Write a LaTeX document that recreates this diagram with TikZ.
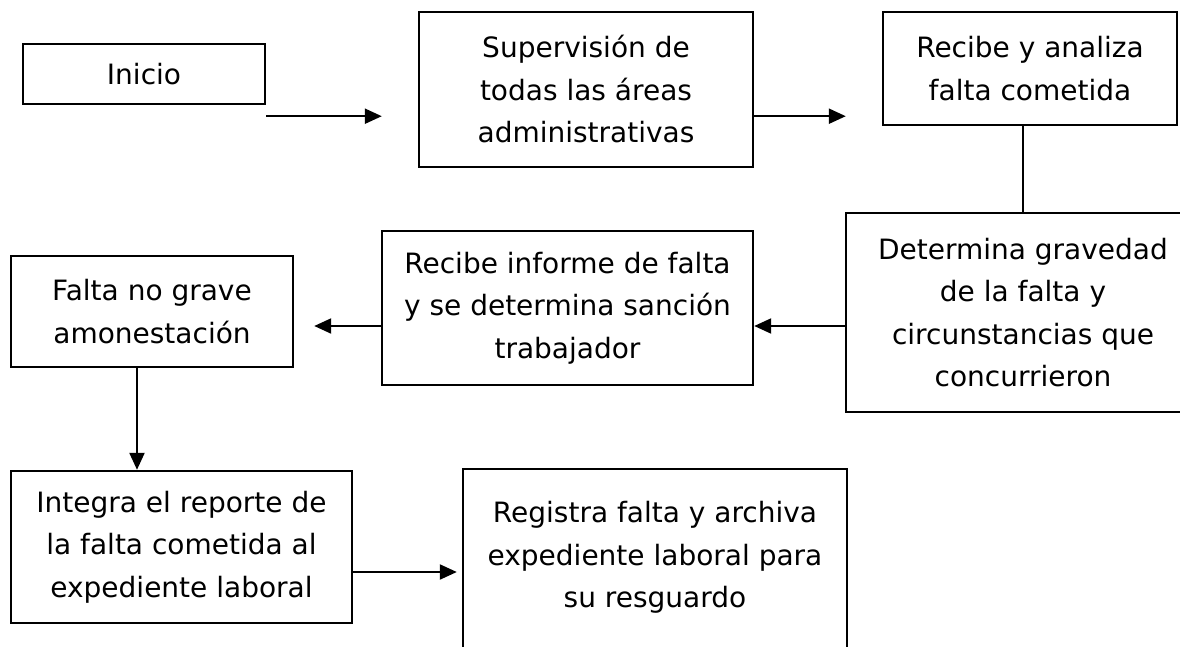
\documentclass[tikz,border=0pt]{standalone}
\usepackage{fontspec}
\setmainfont{DejaVu Sans}
\usetikzlibrary{arrows.meta}
\tikzset{
  mybox/.style={draw,line width=2.4pt,inner sep=0pt,align=center,
    font=\fontsize{28}{42.5}\selectfont},
  myarrow/.style={line width=2.2pt,-{Triangle[length=17pt,width=15pt]}}
}

\begin{document}
\begin{tikzpicture}[x=1pt,y=-1pt]
  \clip (0,0) rectangle (1180,647);
  \node[mybox,minimum width=242,minimum height=60]  (inicio)   at (144,74)    {Inicio};
  \node[mybox,minimum width=334,minimum height=155] (superv)   at (586,89.5)  {Supervisión de\\todas las áreas\\administrativas};
  \node[mybox,minimum width=294,minimum height=113] (analiza)  at (1030,68.5) {Recibe y analiza\\falta cometida};
  \node[mybox,minimum width=354,minimum height=199] (gravedad) at (1023,312.5) {Determina gravedad\\de la falta y\\circunstancias que\\concurrieron};
  \node[mybox,minimum width=371,minimum height=154] (informe)  at (567.5,308) {Recibe informe de falta\\y se determina sanción\\trabajador};
  \node[mybox,minimum width=282,minimum height=111] (nograve)  at (152,311.5) {Falta no grave\\amonestación};
  \node[mybox,minimum width=341,minimum height=152] (integra)  at (181.5,547) {Integra el reporte de\\la falta cometida al\\expediente laboral};
  \node[mybox,minimum width=384,minimum height=256,anchor=north] (registra) at (655,468) {Registra falta y archiva\\expediente laboral para\\su resguardo\\ \\};
  % free ends of the arrows
  \coordinate (s1) at ([yshift=-11pt]inicio.south east);
  \coordinate (e1) at ([xshift=-36pt]superv.west |- s1);
  \coordinate (e2) at ([xshift=-36pt]analiza.west |- s1);
  \coordinate (s3) at ([yshift=-13.5pt]gravedad.west);
  \coordinate (s4) at (informe.west |- s3);
  \coordinate (e4) at ([xshift=20pt]nograve.east |- s4);
  \coordinate (s5) at ([xshift=-15pt]nograve.south);
  \coordinate (s6) at ([yshift=-25pt]integra.east);
  \draw[myarrow] (s1) -- (e1);
  \draw[myarrow] (superv.east |- s1) -- (e2);
  \draw[line width=2.2pt] (gravedad.north) -- (gravedad.north |- analiza.south);
  \draw[myarrow] (s3) -- (informe.east |- s3);
  \draw[myarrow] (s4) -- (e4);
  \draw[myarrow] (s5) -- (s5 |- integra.north);
  \draw[myarrow] (s6) -- ([xshift=-5pt]registra.west |- s6);
\end{tikzpicture}
\end{document}
